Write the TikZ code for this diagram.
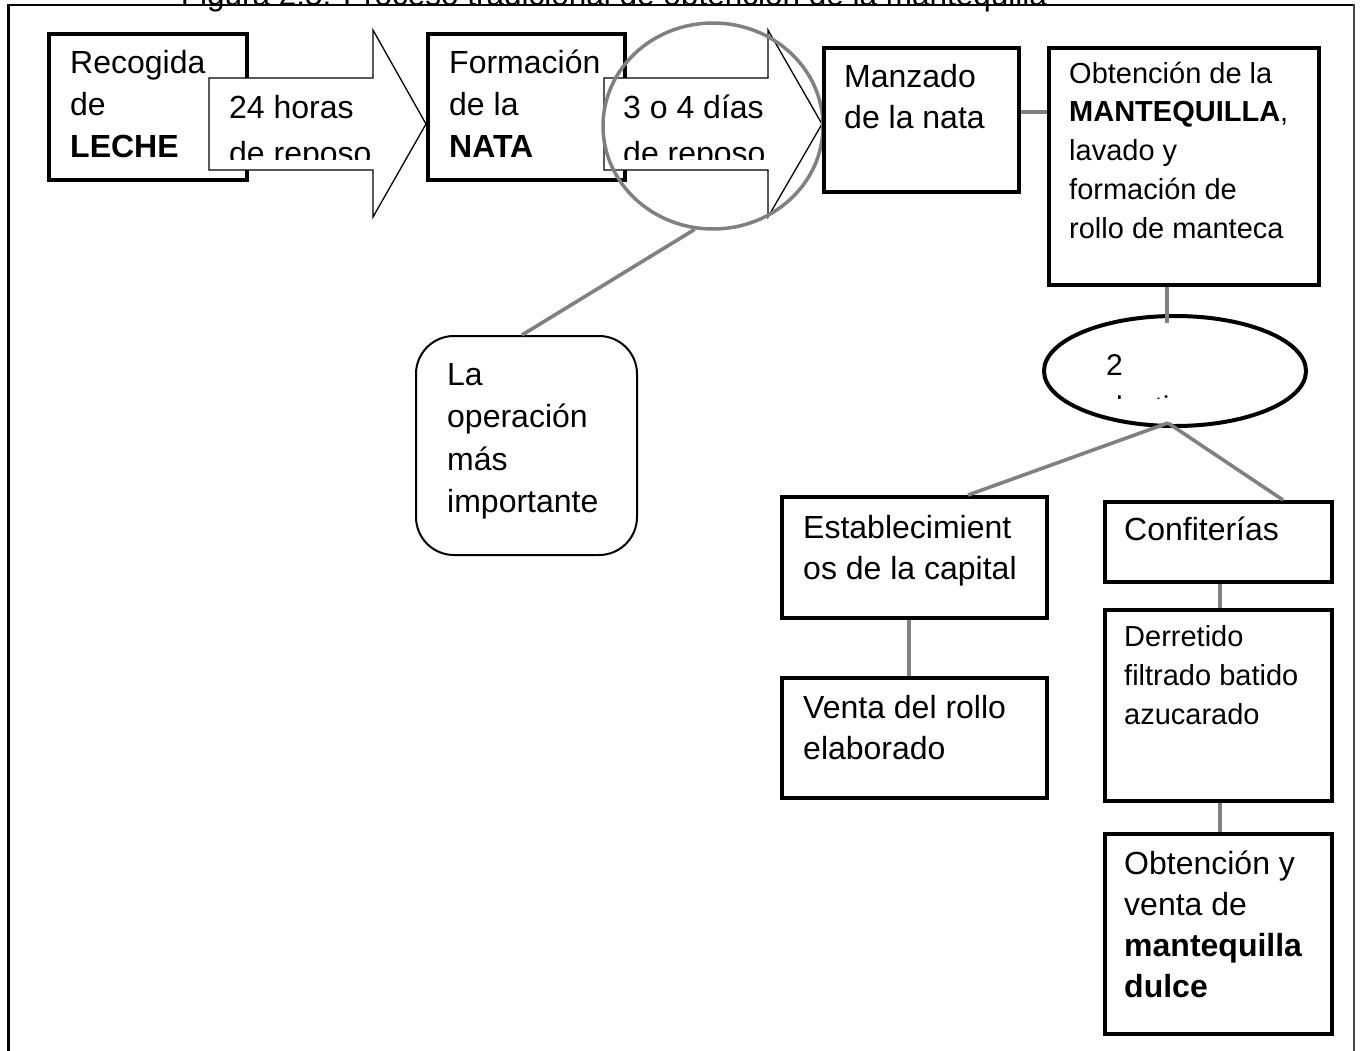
\documentclass[tikz,border=0pt]{standalone}
\usepackage{fontspec}
\setmainfont{Liberation Sans}
\usetikzlibrary{shapes.geometric}
\definecolor{linegray}{RGB}{128,128,128}
\definecolor{framegray}{RGB}{70,70,70}
\tikzset{
  bbox/.style={draw=black, line width=4pt, inner sep=0pt, anchor=north west, fill=white},
  conn/.style={draw=linegray, line width=3.6pt},
  txt/.style={anchor=base west, inner sep=0pt},
  blockarrow/.style={draw=black, line width=1.3pt, fill=white, line join=miter},
}
\newcommand\tbig[1]{\parbox[t]{420pt}{\raggedright\fontsize{32}{42}\selectfont #1}}
\newcommand\tsmall[1]{\parbox[t]{420pt}{\raggedright\fontsize{29}{39}\selectfont #1}}
\begin{document}
\begin{tikzpicture}[x=1pt,y=-1pt]
\useasboundingbox (0,0) rectangle (1362,1050);
% title (cut by the page top)
\node[anchor=base, inner sep=0pt] (title) at (614,5) {\fontsize{31.5}{38}\selectfont Figura 2.5. Proceso tradicional de obtención de la mantequilla};
% frame
\draw[line width=2pt] (8,5) -- (1354,5);
\draw[line width=3pt] (8,1060) -- (8,4);
\draw[line width=2pt, framegray] (1354,4) -- (1354,1060);
% first row boxes
\node[bbox, minimum width=198pt, minimum height=146pt] (rec) at (47,32) {};
\node[txt] (rect) at (70,73) {\tbig{Recogida\\de\\\textbf{LECHE}}};
\node[bbox, minimum width=197pt, minimum height=146pt] (form) at (426,32) {};
\node[txt] (formt) at (449,73) {\tbig{Formación\\de la\\\textbf{NATA}}};
% block arrow 1
\draw[blockarrow] (209,78) -- (373,78) -- (373,30) -- (426,124) -- (373,217) -- (373,170) -- (209,170) -- cycle;
\begin{scope}
  \clip (209,78) rectangle (373,159);
  \node[txt] (a1a) at (229,118) {\fontsize{32}{42}\selectfont 24 horas};
  \node[txt] (a1b) at (229,164) {\fontsize{32}{42}\selectfont de reposo};
\end{scope}
% block arrow 2
\draw[blockarrow] (604,78) -- (768,78) -- (768,30) -- (822,124) -- (768,217) -- (768,170) -- (604,170) -- cycle;
\begin{scope}
  \clip (604,78) rectangle (768,159);
  \node[txt] (a2a) at (623,118) {\fontsize{32}{42}\selectfont 3 o 4 días};
  \node[txt] (a2b) at (623,164) {\fontsize{32}{42}\selectfont de reposo};
\end{scope}
% gray circle
\node[draw=linegray, line width=3.5pt, ellipse, minimum width=220pt, minimum height=206pt, inner sep=0pt] (circ) at (713,126) {};
% rounded note
\node[draw=black, line width=2pt, rounded corners=38pt, anchor=north west, minimum width=221pt, minimum height=219pt, inner sep=0pt] (rbox) at (415,335) {};
\node[txt] (rboxt) at (447,385) {\parbox[t]{420pt}{\raggedright\fontsize{32}{42.5}\selectfont La\\operación\\más\\importante}};
\draw[conn] (circ.260) -- (rbox.north -| 522,0);
% Manzado and Obtencion
\node[bbox, minimum width=195pt, minimum height=144pt] (manz) at (822,46) {};
\node[txt] (manzt) at (844,87) {\parbox[t]{420pt}{\raggedright\fontsize{32}{41}\selectfont Manzado\\de la nata}};
\node[bbox, minimum width=270pt, minimum height=237pt] (obt) at (1047,46) {};
\node[txt] (obtt) at (1069,83) {\parbox[t]{420pt}{\raggedright\fontsize{29}{38.8}\selectfont Obtención de la\\\textbf{MANTEQUILLA},\\lavado y\\formación de\\rollo de manteca}};
\draw[conn] (manz.east |- 0,112) -- (obt.west |- 0,112);
% ellipse 2 destinos
\node[draw=black, line width=4pt, ellipse, minimum width=262pt, minimum height=110pt, inner sep=0pt, fill=white] (dest) at (1175,371) {};
\node[txt] (two) at (1106,375) {\fontsize{30}{42}\selectfont 2};
\begin{scope}
  \clip (1095,380) rectangle (1300,398);
  \node[txt] (destt) at (1106,417) {\fontsize{30}{42}\selectfont destinos};
\end{scope}
\coordinate (et) at (1167,323);
\draw[conn] (obt.south -| et) -- (et);
% lower boxes
\node[bbox, minimum width=265pt, minimum height=121pt] (estab) at (780,495) {};
\node[txt] (estabt) at (803,538) {\parbox[t]{420pt}{\raggedright\fontsize{32}{41}\selectfont Establecimient\\os de la capital}};
\node[bbox, minimum width=265pt, minimum height=120pt] (venta) at (780,676) {};
\node[txt] (ventat) at (803,718) {\parbox[t]{420pt}{\raggedright\fontsize{32}{41}\selectfont Venta del rollo\\elaborado}};
\node[bbox, minimum width=227pt, minimum height=80pt] (conf) at (1103,500) {};
\node[txt] (conft) at (1124,540) {\fontsize{32}{41}\selectfont Confiterías};
\node[bbox, minimum width=227pt, minimum height=191pt] (derr) at (1103,608) {};
\node[txt] (derrt) at (1124,646) {\tsmall{Derretido\\filtrado batido\\azucarado}};
\node[bbox, minimum width=227pt, minimum height=200pt] (obtv) at (1103,832) {};
\node[txt] (obtvt) at (1124,874) {\parbox[t]{420pt}{\raggedright\fontsize{32}{41.3}\selectfont Obtención y\\venta de\\\textbf{mantequilla}\\\textbf{dulce}}};
% connectors
\coordinate (eb) at (1168,423);
\draw[conn] (eb) -- (estab.north -| 968,0);
\draw[conn] (eb) -- (conf.north -| 1283,0);
\draw[conn] (estab.south -| 909,0) -- (venta.north -| 909,0);
\draw[conn] (conf.south -| 1220,0) -- (derr.north -| 1220,0);
\draw[conn] (derr.south -| 1220,0) -- (obtv.north -| 1220,0);
\end{tikzpicture}
\end{document}
